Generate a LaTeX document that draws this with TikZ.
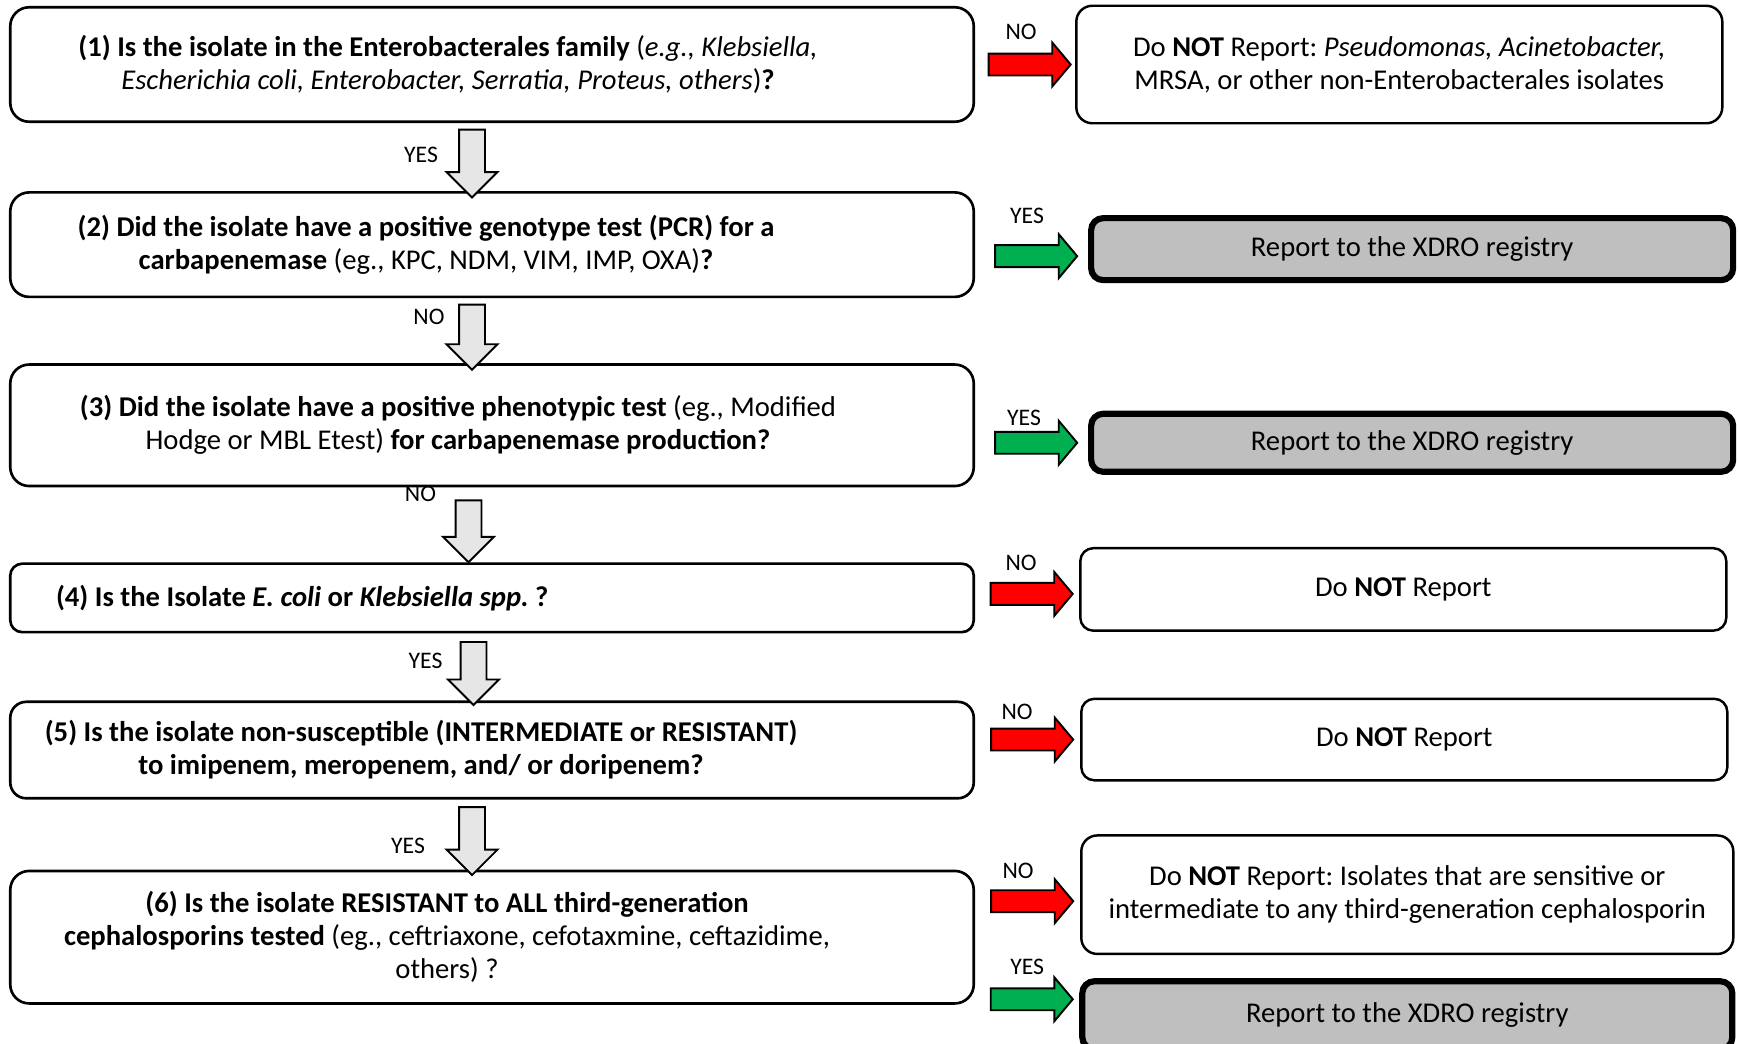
\documentclass[tikz,border=0pt]{standalone}
\usepackage{fontspec}
\setmainfont{Carlito}
\usepackage{xcolor}
\usepackage{tikz}
\usetikzlibrary{shapes,arrows,positioning,calc}
\frenchspacing
\definecolor{boxgray}{RGB}{191,191,191}
\definecolor{arrowgray}{RGB}{230,230,230}
\definecolor{yesgreen}{RGB}{0,176,80}
\definecolor{nored}{RGB}{255,0,0}
\tikzset{
    question/.style={
        rectangle,
        rounded corners=0.38cm,
        draw=black,
        line width=1.5pt,
        minimum width=19.27cm,
        font=\fontsize{16.3}{18.8}\selectfont
    },
    outcome/.style={
        rectangle,
        rounded corners=0.32cm,
        draw=black,
        line width=1.4pt,
        minimum width=12.92cm,
        align=center,
        font=\fontsize{16.3}{18.8}\selectfont
    },
    registry/.style={
        outcome,
        fill=boxgray,
        line width=3.5pt,
        rounded corners=0.24cm,
        minimum width=12.84cm
    },
    downarrow/.style={
        single arrow,
        draw=black,
        line width=1.1pt,
        fill=arrowgray,
        rotate=-90,
        inner xsep=0pt,
        inner ysep=0.24cm,
        single arrow head extend=0.25cm
    },
    yesarrow/.style={
        single arrow,
        draw=black,
        line width=1.1pt,
        fill=yesgreen,
        minimum height=1.64cm,
        inner xsep=0pt,
        inner ysep=0.2cm,
        single arrow head extend=0.22cm,
        single arrow tip angle=100
    },
    noarrow/.style={
        yesarrow,
        fill=nored
    },
    answer/.style={
        inner sep=0pt,
        font=\fontsize{13.5}{16}\selectfont
    }
}

\begin{document}
\begin{tikzpicture}
\useasboundingbox (0,0) rectangle (34.76,-20.86);

% (1) Enterobacterales
\node[question, minimum height=2.29cm] (q1) at (9.84,-1.29) {%
    \hspace*{-1.76cm}\begin{minipage}{18.5cm}\centering
    \textbf{(1) Is the isolate in the Enterobacterales family} (\textit{e.g., Klebsiella,}\\
    \textit{Escherichia coli, Enterobacter, Serratia, Proteus, others})\textbf{?}
    \end{minipage}};

% (2) genotype test
\node[question, minimum height=2.09cm, below=1.36cm of q1] (q2) {%
    \hspace*{-2.64cm}\begin{minipage}{18.5cm}\centering
    \textbf{(2) Did the isolate have a positive genotype test (PCR) for a}\\
    \textbf{carbapenemase} (eg., KPC, NDM, VIM, IMP, OXA)\textbf{?}
    \end{minipage}};

% (3) phenotypic test
\node[question, minimum height=2.43cm, below=1.3cm of q2] (q3) {%
    \hspace*{-1.36cm}\begin{minipage}{18.5cm}\centering
    \textbf{(3) Did the isolate have a positive phenotypic test} (eg., Modified\\
    Hodge or MBL Etest) \textbf{for carbapenemase production?}
    \end{minipage}};

% (4) E. coli or Klebsiella
\node[question, rounded corners=0.24cm, minimum height=1.37cm, below=1.5cm of q3] (q4) {%
    \begin{minipage}{17.44cm}
    \textbf{(4) Is the Isolate \textit{E. coli} or \textit{Klebsiella spp.} ?}
    \end{minipage}};

% (5) carbapenem non-susceptible
\node[question, rounded corners=0.32cm, minimum height=1.93cm, below=1.34cm of q4] (q5) {%
    \hspace*{-2.84cm}\begin{minipage}{18.5cm}\centering
    \textbf{(5) Is the isolate non-susceptible (INTERMEDIATE or RESISTANT)}\\
    \textbf{to imipenem, meropenem, and/ or doripenem?}
    \end{minipage}};

% (6) cephalosporins
\node[question, minimum height=2.65cm, below=1.4cm of q5] (q6) {%
    \hspace*{-1.8cm}\begin{minipage}{18.5cm}\centering
    \textbf{(6) Is the isolate RESISTANT to ALL third-generation}\\
    \textbf{cephalosporins tested} (eg., ceftriaxone, cefotaxmine, ceftazidime,\\
    others) ?
    \end{minipage}};

% outcomes
\node[outcome, minimum height=2.35cm, right=2.0cm of q1] (r1) {Do \textbf{NOT} Report: \textit{Pseudomonas, Acinetobacter,}\\ MRSA, or other non-Enterobacterales isolates};
\node[registry, minimum height=1.24cm, right=2.26cm of q2, yshift=-0.09cm] (r2) {Report to the XDRO registry};
\node[registry, minimum height=1.16cm, right=2.26cm of q3, yshift=-0.35cm] (r3) {Report to the XDRO registry};
\node[outcome, rounded corners=0.26cm, minimum height=1.65cm, right=2.08cm of q4, yshift=0.17cm] (r4) {Do \textbf{NOT} Report};
\node[outcome, rounded corners=0.26cm, minimum height=1.63cm, right=2.1cm of q5, yshift=0.21cm] (r5) {Do \textbf{NOT} Report};
\node[outcome, minimum width=13.04cm, minimum height=2.37cm, right=2.1cm of q6, yshift=0.85cm] (r6a) {Do \textbf{NOT} Report: Isolates that are sensitive or\\ intermediate to any third-generation cephalosporin};
\node[registry, minimum width=13.0cm, minimum height=1.36cm, below=0.46cm of r6a] (r6b) {Report to the XDRO registry};

% down arrows
\path ([xshift=-0.4cm]q1.south) -- ([xshift=-0.4cm]q2.north) node[midway, downarrow, minimum height=1.36cm] (d12) {};
\path ([xshift=-0.4cm]q2.south) -- ([xshift=-0.4cm]q3.north) node[midway, downarrow, minimum height=1.3cm] (d23) {};
\path ([xshift=-0.4cm]q3.south) -- ([xshift=-0.4cm]q4.north) node[midway, downarrow, minimum height=1.24cm, yshift=-0.07cm] (d34) {};
\path ([xshift=-0.4cm]q4.south) -- ([xshift=-0.4cm]q5.north) node[midway, downarrow, minimum height=1.26cm, yshift=0.03cm] (d45) {};
\path ([xshift=-0.4cm]q5.south) -- ([xshift=-0.4cm]q6.north) node[midway, downarrow, minimum height=1.36cm] (d56) {};

\node[answer] at ([shift={(-1.02,0.04)}]d12) {YES};
\node[answer] at ([shift={(-0.86,0.27)}]d23) {NO};
\node[answer] at ([shift={(-0.96,0.62)}]d34) {NO};
\node[answer] at ([shift={(-0.96,0.12)}]d45) {YES};
\node[answer] at ([shift={(-1.28,-0.22)}]d56) {YES};

% side arrows
\path (q1.east |- r1.west) -- (r1.west) node[midway, noarrow] (a1) {};
\path (q2.east |- r2.west) -- (r2.west) node[midway, yesarrow, yshift=-0.14cm] (a2) {};
\path (q3.east |- r3.west) -- (r3.west) node[midway, yesarrow] (a3) {};
\path (q4.east |- r4.west) -- (r4.west) node[midway, noarrow, yshift=-0.09cm] (a4) {};
\path (q5.east |- r5.west) -- (r5.west) node[midway, noarrow] (a5) {};
\path (q6.east |- r6a.west) -- (r6a.west) node[midway, noarrow, yshift=-0.13cm] (a6n) {};
\path (q6.east |- r6b.west) -- (r6b.west) node[midway, yesarrow, yshift=0.32cm] (a6y) {};

\node[answer] at ([shift={(-0.08,0.65)}]a1) {NO};
\node[answer] at ([shift={(-0.09,0.8)}]a2) {YES};
\node[answer] at ([shift={(-0.15,0.5)}]a3) {YES};
\node[answer] at ([shift={(-0.12,0.62)}]a4) {NO};
\node[answer] at ([shift={(-0.21,0.56)}]a5) {NO};
\node[answer] at ([shift={(-0.19,0.6)}]a6n) {NO};
\node[answer] at ([shift={(0,0.64)}]a6y) {YES};
\end{tikzpicture}
\end{document}
